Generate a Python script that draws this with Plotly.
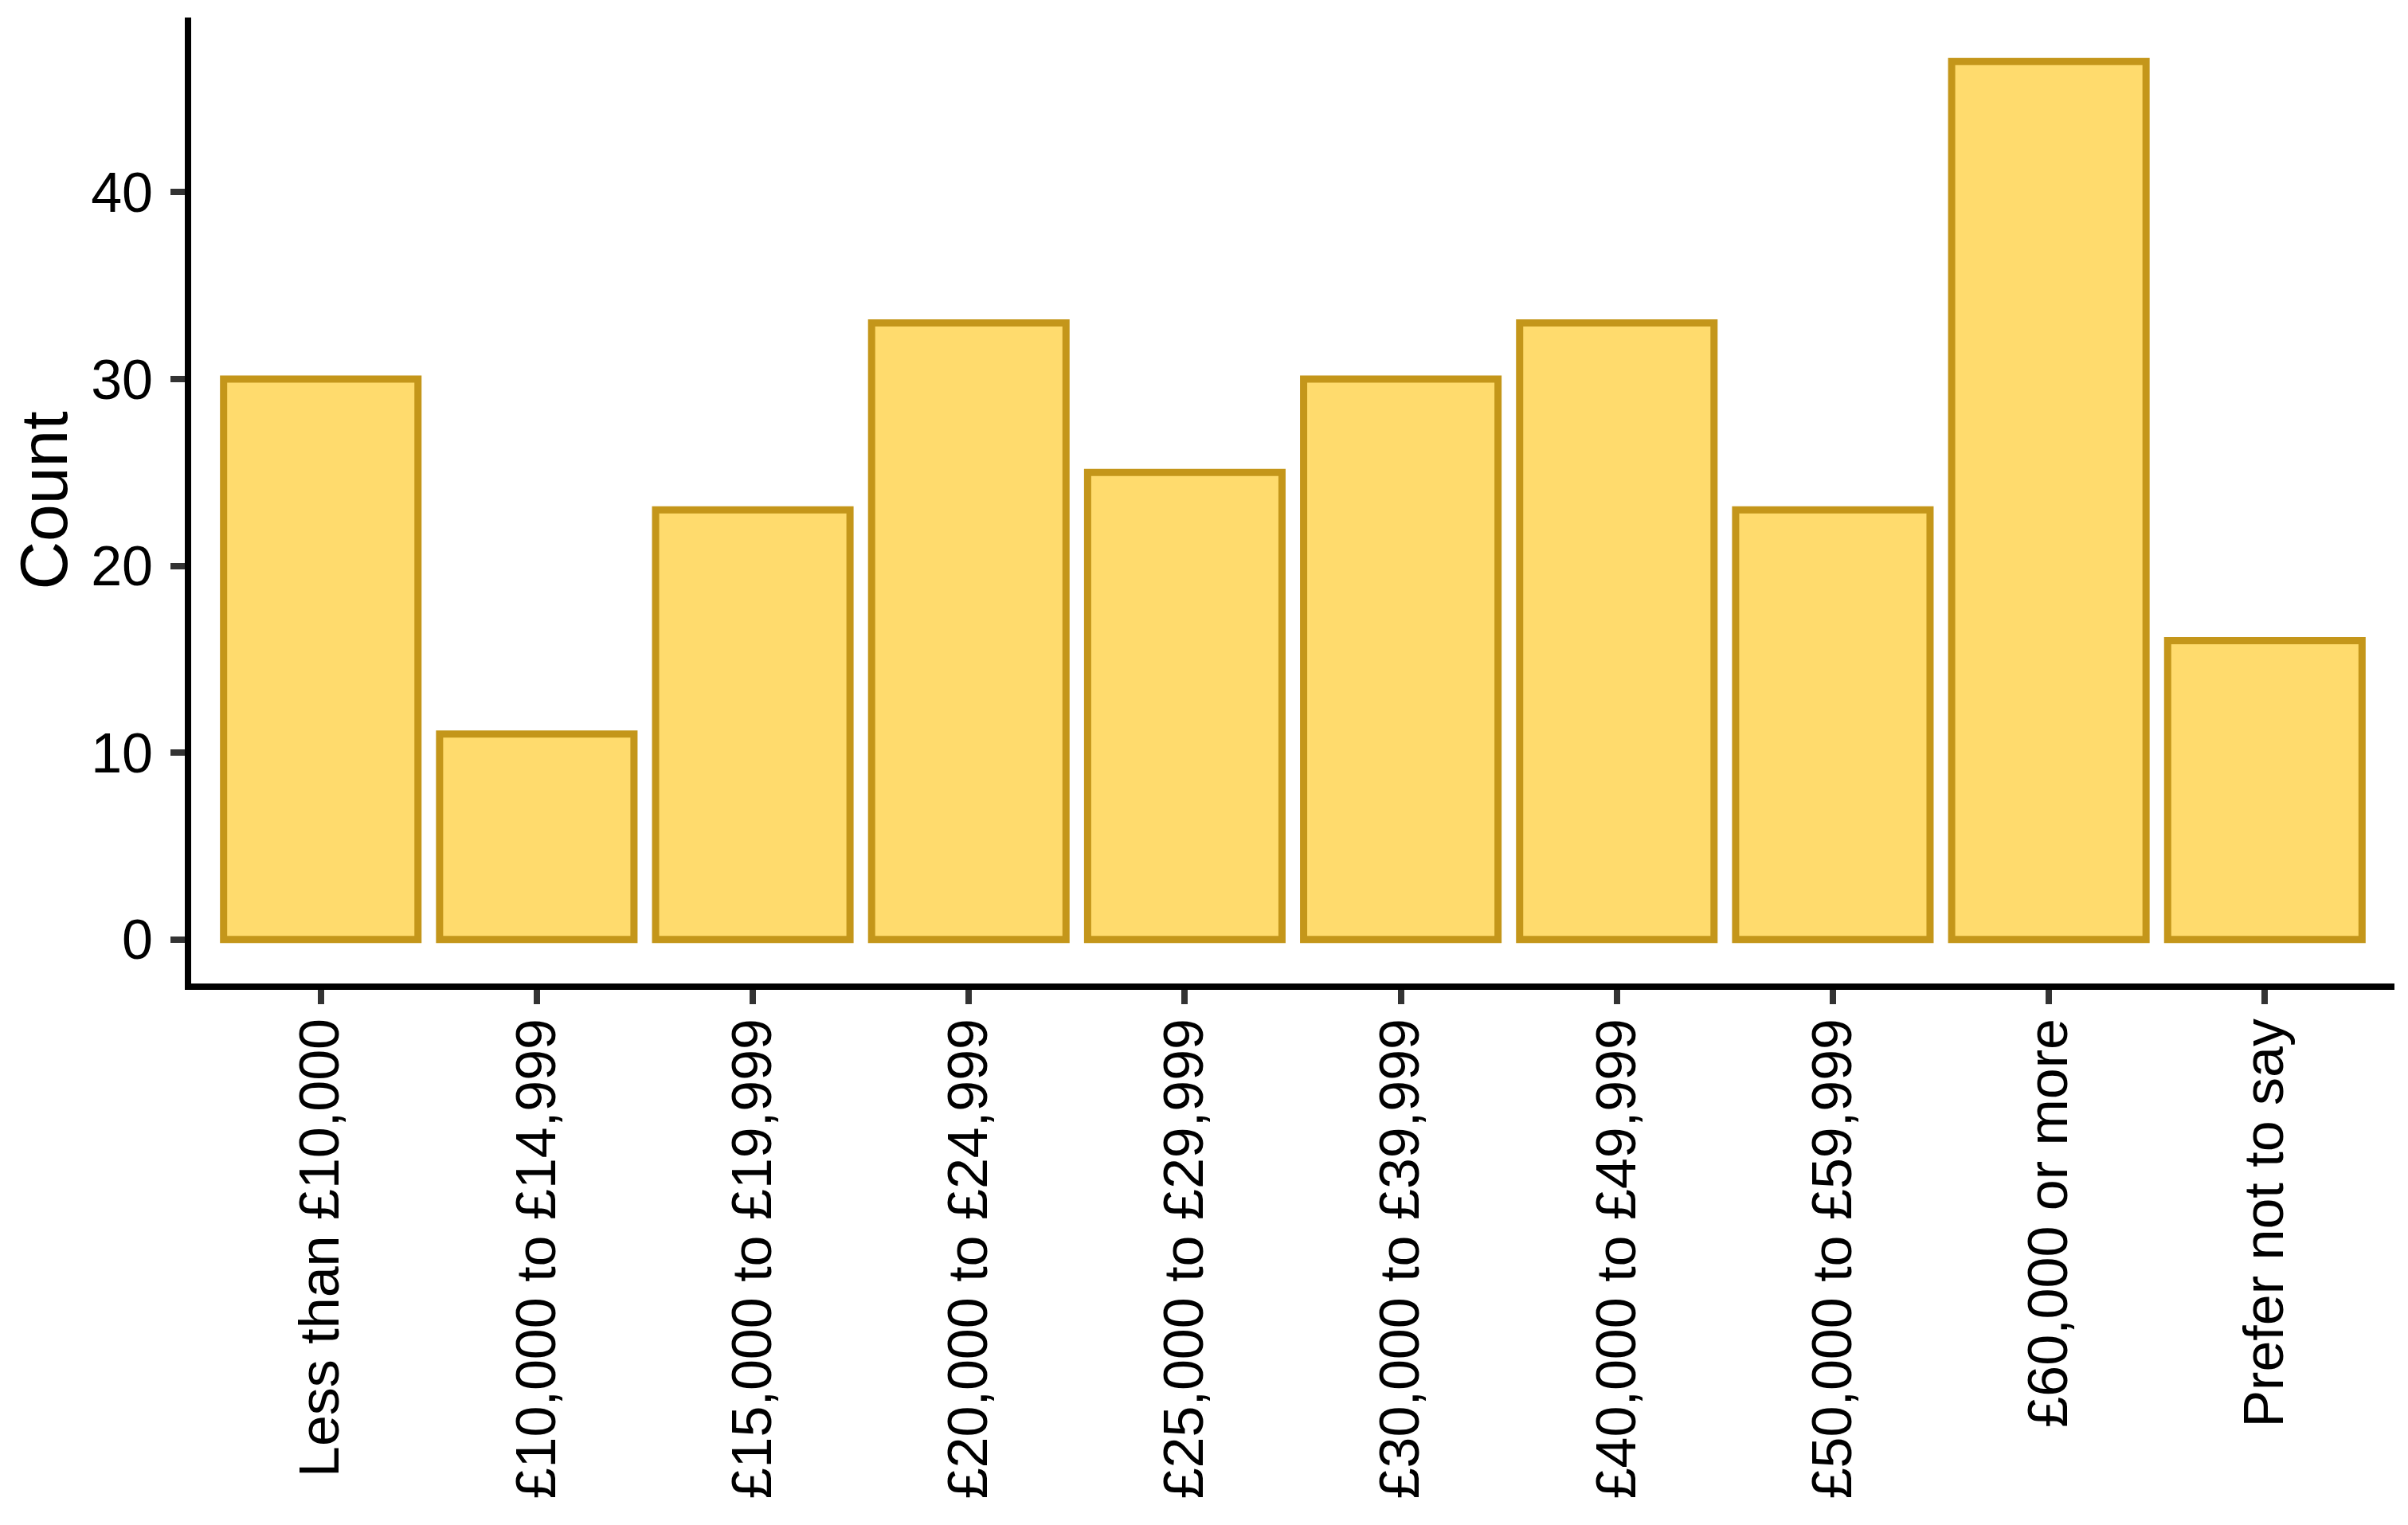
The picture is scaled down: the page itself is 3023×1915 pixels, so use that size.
import plotly.graph_objects as go

# Income bands and respondent counts
income_bands = [
    "Less than £10,000",
    "£10,000 to £14,999",
    "£15,000 to £19,999",
    "£20,000 to £24,999",
    "£25,000 to £29,999",
    "£30,000 to £39,999",
    "£40,000 to £49,999",
    "£50,000 to £59,999",
    "£60,000 or more",
    "Prefer not to say",
]
counts = [30, 11, 23, 33, 25, 30, 33, 23, 47, 16]
y_ticks = [0, 10, 20, 30, 40]

fill_colour = "#FFDB6D"
line_colour = "#C4961A"
font_family = "Liberation Sans, Arial, sans-serif"

fig = go.Figure(
    go.Bar(
        x=income_bands,
        y=counts,
        width=0.9,
        marker=dict(color=fill_colour, line=dict(color=line_colour, width=9)),
    )
)

# ggplot-style classic theme: axis lines, no grid
fig.update_layout(
    width=3023,
    height=1915,
    margin=dict(l=232, r=25, t=14, b=688),
    plot_bgcolor="white",
    paper_bgcolor="white",
    font=dict(family=font_family, size=70, color="black"),
    showlegend=False,
)

fig.update_xaxes(
    range=[-0.6, len(income_bands) - 0.4],
    tickangle=-90,
    showline=True,
    linecolor="black",
    linewidth=8,
    ticks="outside",
    ticklen=18,
    tickwidth=8,
    tickcolor="#333333",
    showgrid=False,
    ticklabelstandoff=-10,
)

fig.update_yaxes(
    range=[-2.35, 49.35],
    tickvals=y_ticks,
    showline=True,
    linecolor="black",
    linewidth=8,
    ticks="outside",
    ticklen=18,
    tickwidth=8,
    tickcolor="#333333",
    showgrid=False,
    zeroline=False,
    ticklabelstandoff=8,
    title=dict(text="Count", standoff=30),
)

fig.write_html("out.html")
